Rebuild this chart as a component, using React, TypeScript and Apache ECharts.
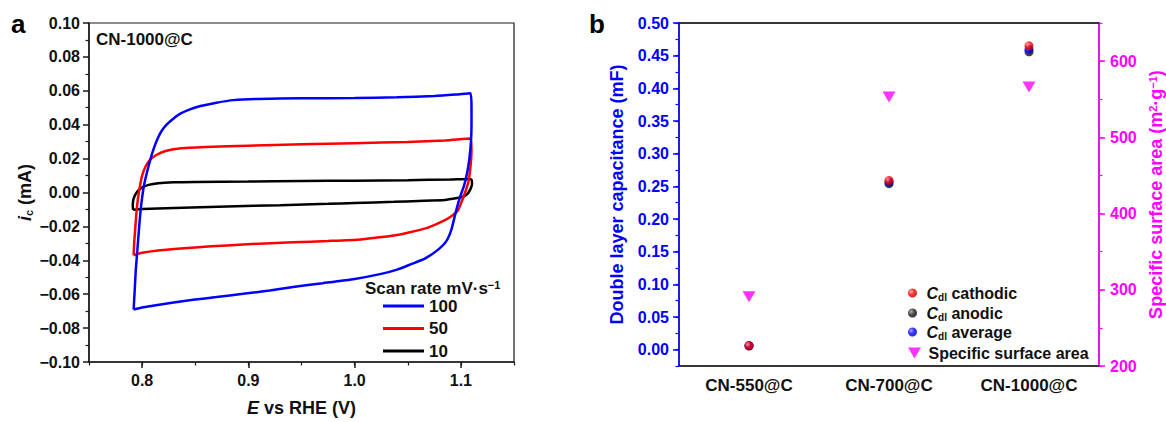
import React, { useEffect, useRef } from 'react';
import * as echarts from 'echarts';

const FONT = 'Arial, "Liberation Sans", Helvetica, sans-serif';
const BLUE = '#0000FF';
const RED = '#FF0000';
const MAGENTA = '#FF00FF';
const AXIS = '#1a1a1a';

// ---- Panel a: cyclic voltammograms (E in V vs RHE, i_c in mA)
const scanRates = ['100', '50', '10'];
const scanColors = [BLUE, RED, '#000000'];

const cv100: [number, number][] = [
  [0.792, -0.069], [0.793, -0.058], [0.794, -0.046], [0.7955, -0.034], [0.797, -0.022], [0.7985, -0.011],
  [0.8, -0.003], [0.802, 0.005], [0.805, 0.013], [0.808, 0.02], [0.811, 0.026], [0.814, 0.031],
  [0.818, 0.036], [0.823, 0.04], [0.829, 0.0434], [0.836, 0.0465], [0.845, 0.049], [0.855, 0.051],
  [0.87, 0.053], [0.886, 0.0545], [0.91, 0.0552], [0.95, 0.0556], [1.0, 0.0557], [1.04, 0.0562],
  [1.075, 0.0569], [1.095, 0.0578], [1.109, 0.0586], [1.11, 0.05], [1.11, 0.04], [1.1095, 0.03],
  [1.108, 0.02], [1.106, 0.012], [1.103, 0.004], [1.099, -0.003], [1.095, -0.012], [1.091, -0.022],
  [1.086, -0.029], [1.078, -0.034], [1.066, -0.039], [1.053, -0.0423], [1.04, -0.0455], [1.025, -0.048],
  [1.0, -0.051], [0.97, -0.0535], [0.942, -0.0557], [0.92, -0.0578], [0.895, -0.0598], [0.87, -0.0617],
  [0.848, -0.0633], [0.828, -0.0651], [0.81, -0.0668], [0.8, -0.0678], [0.792, -0.069],
];

const cv50: [number, number][] = [
  [0.792, -0.037], [0.7925, -0.03], [0.7934, -0.0224], [0.7945, -0.013], [0.796, -0.004], [0.798, 0.004],
  [0.8, 0.01], [0.803, 0.015], [0.807, 0.019], [0.813, 0.022], [0.822, 0.0245], [0.835, 0.026],
  [0.86, 0.0268], [0.9, 0.0276], [0.95, 0.0284], [1.0, 0.0291], [1.05, 0.0298], [1.085, 0.0307],
  [1.109, 0.0318], [1.11, 0.025], [1.109, 0.015], [1.107, 0.006], [1.104, 0.0], [1.101, -0.005],
  [1.097, -0.0108], [1.091, -0.014], [1.084, -0.0166], [1.069, -0.0207], [1.053, -0.0233], [1.037, -0.0254],
  [1.02, -0.0267], [1.006, -0.0277], [0.975, -0.0286], [0.942, -0.0294], [0.91, -0.0302], [0.88, -0.0312],
  [0.85, -0.0324], [0.817, -0.0341], [0.8, -0.0356], [0.792, -0.037],
];

const cv10: [number, number][] = [
  [0.7915, -0.0102], [0.7912, -0.008], [0.7915, -0.005], [0.793, -0.002], [0.796, 0.001], [0.8, 0.003],
  [0.806, 0.0045], [0.815, 0.0055], [0.83, 0.006], [0.85, 0.0062], [0.9, 0.0065], [0.95, 0.0068],
  [1.0, 0.007], [1.05, 0.0073], [1.09, 0.0077], [1.107, 0.008], [1.11, 0.0075], [1.1105, 0.005],
  [1.109, 0.002], [1.106, -0.001], [1.102, -0.0025], [1.097, -0.0032], [1.085, -0.0044], [1.06, -0.005],
  [1.037, -0.0055], [1.0, -0.0062], [0.975, -0.0067], [0.93, -0.0075], [0.88, -0.0082], [0.83, -0.0091],
  [0.8, -0.0098], [0.7915, -0.0102],
];

const aXLabels = [0.8, 0.9, 1.0, 1.1];

// ---- Panel b
const samples = ['CN-550@C', 'CN-700@C', 'CN-1000@C'];
const cdlCathodic = [0.006, 0.259, 0.465];
const cdlAnodic = [0.006, 0.254, 0.456];
const cdlAverage = [0.006, 0.2565, 0.46];
const surfaceArea = [291, 553, 566];
const bLeftLabels = [0, 0.05, 0.1, 0.15, 0.2, 0.25, 0.3, 0.35, 0.4, 0.45, 0.5];
const bRightLabels = [200, 300, 400, 500, 600];

const ball = (light: string, mid: string, dark: string) => ({
  type: 'radial',
  x: 0.35,
  y: 0.35,
  r: 0.75,
  colorStops: [
    { offset: 0, color: light },
    { offset: 0.45, color: mid },
    { offset: 1, color: dark },
  ],
});

const bold = (size: number, color: string) => ({
  fontFamily: FONT,
  fontWeight: 'bold' as const,
  fontSize: size,
  color,
});

const richSet = (size: number, color: string) => ({
  it: { ...bold(size, color), fontStyle: 'italic' as const },
  n: { ...bold(size, color) },
  sub: { ...bold(Math.round(size * 0.62), color), verticalAlign: 'bottom' as const, lineHeight: Math.round(size * 0.62) },
  sup: { ...bold(Math.round(size * 0.62), color), verticalAlign: 'top' as const, lineHeight: Math.round(size * 0.62) },
});

const legendNames: Record<string, string> = {
  'Cdl cathodic': '{it|C}{sub|dl}{n| cathodic}',
  'Cdl anodic': '{it|C}{sub|dl}{n| anodic}',
  'Cdl average': '{it|C}{sub|dl}{n| average}',
  'Specific surface area': '{n|Specific surface area}',
};

const TRI = 'path://M0,0L13,0L6.5,11Z';

export default function App() {
  const ref = useRef<HTMLDivElement>(null);
  useEffect(() => {
    document.body.style.margin = '0';
    if (!ref.current) return;
    const chart = echarts.init(ref.current, null, { renderer: 'svg' });

    const bLegend = (name: string, top: number, w: number, h: number) => ({
      data: [name],
      orient: 'vertical',
      left: 908,
      top,
      padding: 0,
      itemWidth: w,
      itemHeight: h,
      selectedMode: false,
      formatter: (n: string) => legendNames[n] || n,
      textStyle: { ...bold(16, '#111'), lineHeight: 18, rich: richSet(16, '#111') },
    });

    const option: any = {
      animation: false,
      backgroundColor: '#fff',
      grid: [
        { left: 89, top: 23, width: 425, height: 343, show: true, borderColor: AXIS, borderWidth: 1.2 },
        { left: 679, top: 23, width: 424, height: 343, show: true, borderColor: AXIS, borderWidth: 1.2 },
      ],
      xAxis: [
        {
          gridIndex: 0,
          type: 'value',
          position: 'bottom',
          min: 0.75,
          max: 1.15,
          axisLine: { onZero: false, lineStyle: { color: AXIS, width: 1.5 } },
          axisTick: { customValues: aXLabels, length: 6, lineStyle: { color: AXIS, width: 1.5 } },
          axisLabel: { customValues: aXLabels, formatter: (v: number) => v.toFixed(1), margin: 10, ...bold(16, '#111') },
          splitLine: { show: false },
          name: '{it|E}{n| vs RHE (V)}',
          nameLocation: 'middle',
          nameGap: 37,
          nameTextStyle: { ...bold(18, '#111'), rich: richSet(18, '#111') },
        },
        {
          gridIndex: 0,
          type: 'value',
          position: 'bottom',
          min: 0.75,
          max: 1.15,
          interval: 0.05,
          axisLine: { show: false, onZero: false },
          axisTick: { length: 3.5, lineStyle: { color: AXIS, width: 1.2 } },
          axisLabel: { show: false },
          splitLine: { show: false },
        },
        {
          gridIndex: 1,
          type: 'category',
          data: samples,
          position: 'bottom',
          boundaryGap: true,
          axisLine: { onZero: false, lineStyle: { color: AXIS, width: 1.5 } },
          axisTick: { alignWithLabel: true, length: 6, lineStyle: { color: AXIS, width: 1.5 } },
          axisLabel: { margin: 11, ...bold(17, '#111') },
          splitLine: { show: false },
        },
        {
          gridIndex: 1,
          type: 'category',
          data: samples,
          position: 'top',
          boundaryGap: true,
          axisLine: { show: true, onZero: false, lineStyle: { color: AXIS, width: 1.5 } },
          axisTick: { alignWithLabel: true, inside: true, length: 6, lineStyle: { color: AXIS, width: 1.5 } },
          axisLabel: { show: false },
          splitLine: { show: false },
        },
        {
          gridIndex: 1,
          type: 'category',
          data: samples,
          position: 'top',
          boundaryGap: true,
          axisLine: { show: false, onZero: false },
          axisTick: { inside: true, length: 3.5, lineStyle: { color: AXIS, width: 1.2 } },
          axisLabel: { show: false },
          splitLine: { show: false },
        },
      ],
      yAxis: [
        {
          gridIndex: 0,
          type: 'value',
          position: 'left',
          min: -0.1,
          max: 0.1,
          interval: 0.02,
          axisLine: { show: true, onZero: false, lineStyle: { color: AXIS, width: 1.5 } },
          axisTick: { show: true, length: 6, lineStyle: { color: AXIS, width: 1.5 } },
          minorTick: { show: true, splitNumber: 2, length: 3.5, lineStyle: { color: AXIS, width: 1.2 } },
          axisLabel: {
            margin: 9,
            ...bold(16, '#111'),
            formatter: (v: number) => (v < -1e-9 ? '\u2212' : '') + Math.abs(v).toFixed(2),
          },
          splitLine: { show: false },
          name: '{it|i}{sub|c}{n| (mA)}',
          nameLocation: 'middle',
          nameGap: 55,
          nameTextStyle: { ...bold(18, '#111'), rich: richSet(18, '#111') },
        },
        {
          gridIndex: 1,
          type: 'value',
          position: 'left',
          min: -0.025,
          max: 0.5,
          axisLine: { show: true, onZero: false, lineStyle: { color: BLUE, width: 1.5 } },
          axisTick: { show: true, customValues: bLeftLabels, length: 6, lineStyle: { color: BLUE, width: 1.5 } },
          axisLabel: { customValues: bLeftLabels, margin: 10, ...bold(16, BLUE), formatter: (v: number) => v.toFixed(2) },
          splitLine: { show: false },
          name: 'Double layer capacitance (mF)',
          nameLocation: 'middle',
          nameGap: 53,
          nameTextStyle: { ...bold(18, BLUE) },
        },
        {
          gridIndex: 1,
          type: 'value',
          position: 'left',
          min: -0.025,
          max: 0.5,
          interval: 0.025,
          axisLine: { show: false, onZero: false },
          axisTick: { show: true, length: 3.5, lineStyle: { color: BLUE, width: 1.2 } },
          axisLabel: { show: false },
          splitLine: { show: false },
        },
        {
          gridIndex: 1,
          type: 'value',
          position: 'right',
          min: 200,
          max: 650,
          axisLine: { show: true, onZero: false, lineStyle: { color: MAGENTA, width: 1.5 } },
          axisTick: { show: true, customValues: bRightLabels, length: 6, lineStyle: { color: MAGENTA, width: 1.5 } },
          axisLabel: { customValues: bRightLabels, margin: 11, ...bold(16, MAGENTA) },
          splitLine: { show: false },
          name: '{n|Specific surface area (m}{sup|2}{n|\u00b7g}{sup|\u22121}{n|)}',
          nameLocation: 'middle',
          nameGap: 48,
          nameTextStyle: { ...bold(18, MAGENTA), rich: richSet(18, MAGENTA) },
        },
        {
          gridIndex: 1,
          type: 'value',
          position: 'right',
          min: 200,
          max: 650,
          interval: 50,
          axisLine: { show: false, onZero: false },
          axisTick: { show: true, length: 3.5, lineStyle: { color: MAGENTA, width: 1.2 } },
          axisLabel: { show: false },
          splitLine: { show: false },
        },
      ],
      legend: [
        {
          data: scanRates,
          orient: 'vertical',
          left: 383,
          top: 297,
          padding: 0,
          itemWidth: 41,
          itemHeight: 3,
          itemGap: 4.5,
          icon: 'rect',
          selectedMode: false,
          textStyle: { ...bold(17, '#111'), lineHeight: 18 },
        },
        bLegend('Cdl cathodic', 284, 18, 9),
        bLegend('Cdl anodic', 304, 18, 9),
        bLegend('Cdl average', 323, 18, 9),
        { ...bLegend('Specific surface area', 344, 18, 11), icon: TRI, symbolKeepAspect: true },
      ],
      graphic: [
        { type: 'text', x: 11, y: 24, style: { text: 'a', fill: '#000', fontFamily: FONT, fontWeight: 'bold', fontSize: 26, align: 'left', verticalAlign: 'middle' } },
        { type: 'text', x: 589, y: 24, style: { text: 'b', fill: '#000', fontFamily: FONT, fontWeight: 'bold', fontSize: 26, align: 'left', verticalAlign: 'middle' } },
        { type: 'text', x: 96, y: 39, style: { text: 'CN-1000@C', fill: '#111', fontFamily: FONT, fontWeight: 'bold', fontSize: 17, align: 'left', verticalAlign: 'middle' } },
        {
          type: 'text',
          x: 365,
          y: 288,
          style: {
            text: '{n|Scan rate mV\u00b7s}{sup|\u22121}',
            fill: '#111',
            fontFamily: FONT,
            fontWeight: 'bold',
            fontSize: 17,
            align: 'left',
            verticalAlign: 'middle',
            rich: richSet(17, '#111'),
          },
        },
      ],
      series: [
        ...[cv100, cv50, cv10].map((d, k) => ({
          name: scanRates[k],
          type: 'line',
          xAxisIndex: 0,
          yAxisIndex: 0,
          data: d,
          showSymbol: false,
          symbol: 'none',
          smooth: 0.2,
          color: scanColors[k],
          lineStyle: { color: scanColors[k], width: 2.5 },
          z: 3 - k,
        })),
        {
          name: 'Cdl anodic',
          type: 'scatter',
          xAxisIndex: 2,
          yAxisIndex: 1,
          data: cdlAnodic,
          symbolSize: 9,
          itemStyle: { color: ball('#a0a0a0', '#202020', '#000000') },
        },
        {
          name: 'Cdl average',
          type: 'scatter',
          xAxisIndex: 2,
          yAxisIndex: 1,
          data: cdlAverage,
          symbolSize: 9,
          itemStyle: { color: ball('#9090ff', '#0000ff', '#0000a0') },
        },
        {
          name: 'Cdl cathodic',
          type: 'scatter',
          xAxisIndex: 2,
          yAxisIndex: 1,
          data: cdlCathodic,
          symbolSize: 9,
          itemStyle: { color: ball('#ffa0a0', '#ff0000', '#b00000') },
        },
        {
          name: 'Specific surface area',
          type: 'scatter',
          xAxisIndex: 2,
          yAxisIndex: 3,
          data: surfaceArea,
          symbol: TRI,
          symbolSize: [13, 11],
          itemStyle: { color: MAGENTA },
        },
      ],
    };

    chart.setOption(option);
    return () => chart.dispose();
  }, []);

  return <div ref={ref} style={{ width: 1166, height: 422 }} />;
}
